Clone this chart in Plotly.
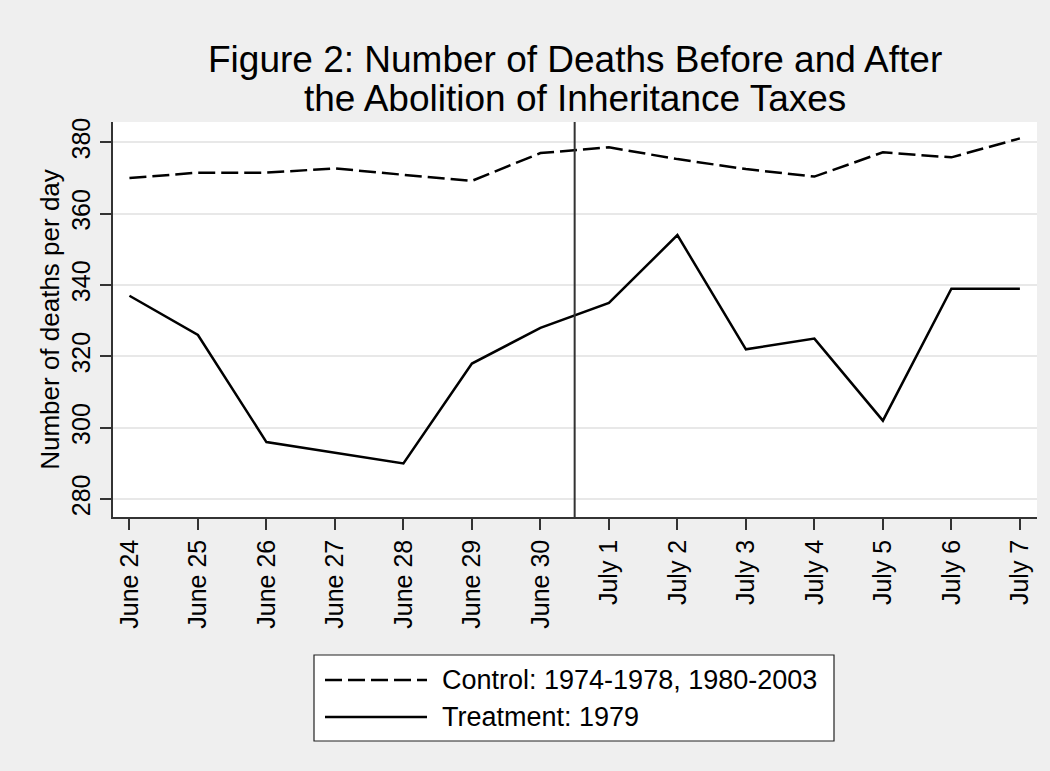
import plotly.graph_objects as go

# ---- data ----
days = ["June 24", "June 25", "June 26", "June 27", "June 28", "June 29", "June 30",
        "July 1", "July 2", "July 3", "July 4", "July 5", "July 6", "July 7"]
control = [370.0, 371.5, 371.5, 372.7, 370.9, 369.2, 377.0,
           378.6, 375.3, 372.5, 370.4, 377.2, 375.8, 381.1]
treatment = [337, 326, 296, 293, 290, 318, 328,
             335, 354, 322, 325, 302, 339, 339]
y_ticks = [280, 300, 320, 340, 360, 380]
policy_break = 6.5  # between June 30 and July 1
control_name = "Control: 1974-1978, 1980-2003"
treatment_name = "Treatment: 1979"
title_lines = ["Figure 2: Number of Deaths Before and After",
               "the Abolition of Inheritance Taxes"]

# ---- layout geometry ----
W, H = 1050, 771
L, R, T, B = 113, 13, 122, 254
PW, PH = W - L - R, H - T - B
FONT = "Liberation Sans, Arial, sans-serif"
AX = "#333333"


def px_x(px):
    return (px - L) / PW


def px_y(py):
    return (H - B - py) / PH


x_idx = list(range(len(days)))

fig = go.Figure()
fig.add_trace(go.Scatter(x=x_idx, y=control, mode="lines", name=control_name,
                         line=dict(color="black", width=2.5, dash="17px,6px"),
                         showlegend=False))
fig.add_trace(go.Scatter(x=x_idx, y=treatment, mode="lines", name=treatment_name,
                         line=dict(color="black", width=2.5),
                         showlegend=False))

shapes = [
    dict(type="line", xref="x", yref="paper", x0=policy_break, x1=policy_break,
         y0=0, y1=1, line=dict(color=AX, width=2)),
    # legend box
    dict(type="rect", xref="paper", yref="paper",
         x0=px_x(314), x1=px_x(834), y0=px_y(741), y1=px_y(655),
         fillcolor="white", line=dict(color="#222222", width=1.2), layer="below"),
    dict(type="line", xref="paper", yref="paper",
         x0=px_x(325), x1=px_x(427), y0=px_y(680), y1=px_y(680),
         line=dict(color="black", width=2.5, dash="17px,6px")),
    dict(type="line", xref="paper", yref="paper",
         x0=px_x(325), x1=px_x(427), y0=px_y(717), y1=px_y(717),
         line=dict(color="black", width=2.5)),
]

annotations = [
    dict(text=title_lines[0], xref="paper", yref="paper", x=0.5, y=px_y(59),
         xanchor="center", yanchor="middle", showarrow=False,
         font=dict(family=FONT, size=37, color="black")),
    dict(text=title_lines[1], xref="paper", yref="paper", x=0.5, y=px_y(99),
         xanchor="center", yanchor="middle", showarrow=False,
         font=dict(family=FONT, size=37, color="black")),
    dict(text=control_name, xref="paper", yref="paper", x=px_x(440), y=px_y(680),
         xanchor="left", yanchor="middle", showarrow=False,
         font=dict(family=FONT, size=27, color="black")),
    dict(text=treatment_name, xref="paper", yref="paper", x=px_x(440), y=px_y(717),
         xanchor="left", yanchor="middle", showarrow=False,
         font=dict(family=FONT, size=27, color="black")),
]

fig.update_layout(
    width=W, height=H,
    margin=dict(l=L, r=R, t=T, b=B, pad=0),
    paper_bgcolor="#efefef",
    plot_bgcolor="white",
    font=dict(family=FONT, size=25, color="black"),
    shapes=shapes,
    annotations=annotations,
    showlegend=False,
)

fig.update_xaxes(
    tickmode="array", tickvals=x_idx, ticktext=days, tickangle=-90,
    range=[-0.24, 13.25], showgrid=False, zeroline=False,
    showline=True, linecolor=AX, linewidth=1.5,
    ticks="outside", ticklen=11, tickwidth=1.5, tickcolor=AX,
    tickfont=dict(family=FONT, size=25, color="black"),
)
fig.update_yaxes(
    tickmode="array", tickvals=y_ticks, tickangle=-90,
    range=[275, 385.7], showgrid=True, gridcolor="#e8e8e8", gridwidth=2,
    zeroline=False, showline=True, linecolor=AX, linewidth=1.5,
    ticks="outside", ticklen=11, tickwidth=1.5, tickcolor=AX,
    tickfont=dict(family=FONT, size=25, color="black"),
    title=dict(text="Number of deaths per day", standoff=0,
               font=dict(family=FONT, size=26, color="black")),
)

fig.write_html("out.html",
               config={"displayModeBar": False},
               post_script="document.body.style.margin='0';document.body.style.overflow='hidden';")
